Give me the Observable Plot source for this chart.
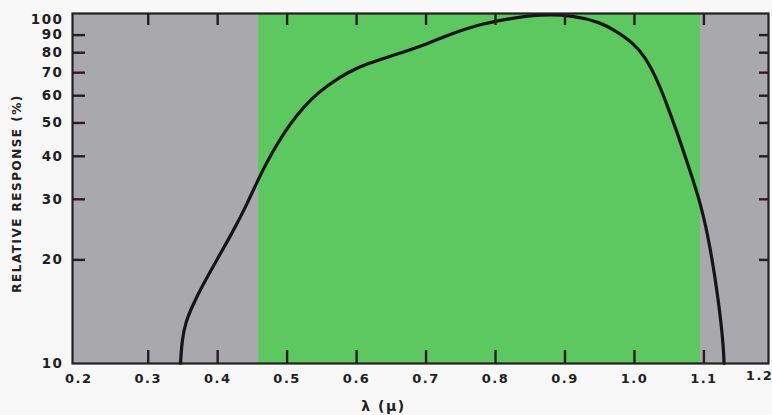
<!DOCTYPE html>
<html><head><meta charset="utf-8">
<script src="https://cdn.jsdelivr.net/npm/d3@7"></script>
<script src="https://cdn.jsdelivr.net/npm/@observablehq/plot@0.6"></script>
<style>
body{margin:0;background:#f8f8f8}
svg{display:block}
.chart text{letter-spacing:1.5px}
</style>
</head><body><div id="chart"></div>
<script>
// Curve: wavelength (µ) and relative response (%)
const wavelength = [0.3465, 0.3486, 0.3537, 0.3638, 0.3782, 0.3983, 0.4213, 0.4415, 0.4588, 0.4761, 0.4948, 0.5149, 0.5336, 0.5581, 0.5869, 0.6157, 0.6531, 0.7021, 0.7352, 0.7712, 0.8173, 0.8648, 0.9123, 0.9512, 0.9728, 0.9972, 1.016, 1.0318, 1.0447, 1.062, 1.0778, 1.0951, 1.1095, 1.121, 1.1264, 1.1287, 1.129];
const response   = [10, 11.67, 13.16, 14.74, 16.86, 19.93, 24.03, 28.8, 34.5, 40.24, 46.65, 52.94, 58.53, 64.29, 70.16, 74.5, 78.58, 84.9, 90.6, 96.1, 100.4, 103.6, 102.7, 98.0, 92.6, 85.8, 77.6, 67.3, 58.1, 46.65, 37.4, 29.4, 21.7, 15.2, 12.2, 10.55, 10];
// Green band (µ)
const bandStart = 0.459;
const bandEnd = 1.095;
// Ticks and labels
const xTickValues = [0.3, 0.4, 0.5, 0.6, 0.7, 0.8, 0.9, 1.0, 1.1];
const xLabelValues = [0.2, 0.3, 0.4, 0.5, 0.6, 0.7, 0.8, 0.9, 1.0, 1.1];
const xLastLabel = [1.2];
const yTickValues = [20, 30, 40, 50, 60, 70, 80, 90];
const yLabelValues = [10, 20, 30, 40, 50, 60, 70, 80, 90, 100];
const xTitle = "λ (μ)";
const yTitle = "RELATIVE RESPONSE (%)";

const curve = wavelength.map((x, i) => ({x, y: response[i]}));
const ink = "#202020";
const tickInk = "#2e1c1c";
const fmt = d3.format(".1f");

const plot = Plot.plot({
  width: 772, height: 415,
  marginLeft: 72, marginRight: 4, marginTop: 13, marginBottom: 52,
  className: "chart",
  x: {domain: [0.191, 1.193]},
  y: {type: "log", domain: [10, 104]},
  style: {fontFamily: "DejaVu Sans", background: "#f8f8f8", color: ink},
  marks: [
    Plot.frame({fill: "#a9a8ac"}),
    Plot.rect([{x1: bandStart, x2: bandEnd}], {x1: "x1", x2: "x2", fill: "#5dc85f"}),
    Plot.line(curve, {x: "x", y: "y", stroke: "#151515", strokeWidth: 3.2, curve: "basis"}),
    Plot.tickX(xTickValues, {x: d => d, insetTop: 337, stroke: tickInk, strokeWidth: 2.4}),
    Plot.tickX(xTickValues, {x: d => d, insetBottom: 338, stroke: tickInk, strokeWidth: 2.4}),
    Plot.tickY(yTickValues, {y: d => d, insetRight: 683, stroke: tickInk, strokeWidth: 2.4}),
    Plot.tickY(yTickValues, {y: d => d, insetLeft: 687, stroke: tickInk, strokeWidth: 2.4}),
    Plot.frame({stroke: ink, strokeWidth: 2.2}),
    Plot.axisX(xLabelValues, {anchor: "bottom", tickSize: 0, tickPadding: 10, tickFormat: fmt, fontSize: 13, fontWeight: "bold", label: null}),
    Plot.text(xLastLabel, {x: d => d, text: d => fmt(d), frameAnchor: "bottom", textAnchor: "end", dy: 16, fontSize: 13, fontWeight: "bold"}),
    Plot.axisY(yLabelValues, {anchor: "left", tickSize: 0, tickPadding: 9, tickFormat: d => String(d), fontSize: 13.5, fontWeight: "bold", label: null}),
    Plot.text([xTitle], {frameAnchor: "bottom", dx: -37, dy: 47, fontSize: 14, fontWeight: "bold"}),
    Plot.text([yTitle], {frameAnchor: "left", textAnchor: "middle", rotate: -90, dx: -55, dy: 5, fontSize: 12, fontWeight: "bold"})
  ]
});
document.getElementById("chart").append(plot);
</script>
</body></html>
